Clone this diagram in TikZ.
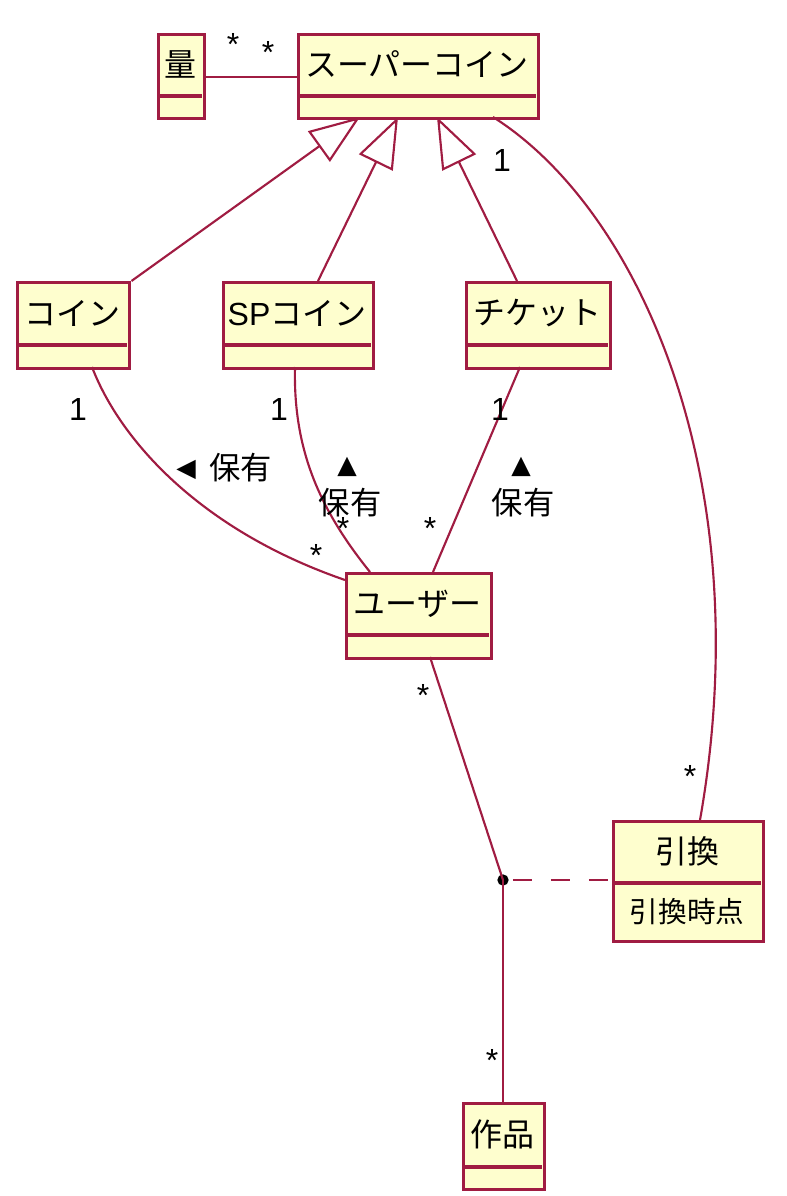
\documentclass[tikz,border=0pt]{standalone}
\usepackage{fontspec}
\setmainfont{Liberation Sans}
\newfontfamily\jp{Noto Sans CJK JP}
\newfontfamily\sym{DejaVu Sans}
\usetikzlibrary{arrows.meta}
\definecolor{bord}{HTML}{A01C42}
\definecolor{fillc}{HTML}{FEFECE}
\newcommand\umlcls[7]{%
  \node[cls, minimum width={(#4-#2)*0.75pt}, minimum height={(#5-#3)*0.75pt}] (#1) at (#2,#3) {};
  \draw[sepline] (#2+1.5,#6) -- (#4-1.5,#6);
  \node[nm] (#1-t) at ({(#2+#4)/2},{(#3+#6)/2}) {#7};
}
\begin{document}
\begin{tikzpicture}[x=0.75pt,y=-0.75pt,
  cls/.style={draw=bord, fill=fillc, line width=2.6pt, inner sep=0pt, anchor=north west},
  sepline/.style={draw=bord, line width=2.6pt},
  nm/.style={font=\fontsize{24}{27}\selectfont\jp, inner sep=0pt},
  attr/.style={font=\fontsize{21.5}{24}\selectfont\jp, inner sep=0pt},
  conn/.style={draw=bord, line width=1.6pt},
  gen/.style={conn, -{Triangle[open, length=38pt, width=28pt, line width=1.6pt]}},
  num/.style={font=\fontsize{24}{27}\selectfont, inner sep=0pt, anchor=south},
  star/.style={font=\fontsize{24}{27}\selectfont, inner sep=0pt, anchor=north},
  jl/.style={font=\fontsize{23.5}{26}\selectfont\jp, inner sep=0pt},
  sy/.style={font=\fontsize{19}{22}\selectfont\sym, inner sep=0pt}]
\path[use as bounding box] (0,0) rectangle (786,1196);

% classes
\umlcls{ryo}{157}{33}{203}{117}{96}{量}
\umlcls{sc}{297}{33}{537}{117}{96}{スーパーコイン}
\umlcls{coin}{16}{281}{128}{367}{345}{コイン}
\umlcls{sp}{222}{281}{372}{367}{345}{{\fontspec{Liberation Sans}SP}コイン}
\umlcls{tk}{465}{281}{609}{367}{345}{チケット}
\umlcls{usr}{345}{572}{490}{657}{635}{ユーザー}
\umlcls{hk}{612}{820}{762}{940}{883}{引換}
\node[attr] (hk-a) at (687,912) {引換時点};
\umlcls{sak}{462}{1102}{543}{1188}{1167}{作品}

% anchor coordinates
\coordinate (t1) at (360,117);
\coordinate (t2) at (398,117);
\coordinate (t3) at (437,117);
\coordinate (scr) at (493,117);
\coordinate (hkt) at (700,820);
\coordinate (coinb) at (92,367);
\coordinate (spb) at (295,367);
\coordinate (tkb) at (520,367);
\coordinate (usrl) at (345,580);
\coordinate (usrt1) at (370,572);
\coordinate (usrt2) at (433,572);
\coordinate (usrb) at (430,657);
\coordinate (sakt) at (503,1102);

% association quantity
\draw[conn] (ryo.east) -- (sc.west);
\node[star] (s1) at (233,33) {*};
\node[star] (s2) at (268,41) {*};

% generalizations
\draw[gen] (coin.north east) -- (t1);
\draw[gen] (318,281) coordinate (spt) -- (t2);
\draw[gen] (517,281) coordinate (tkt) -- (t3);
\node[num] (n1) at (502,172) {1};

% super coin -> exchange
\draw[conn] (scr) .. controls (640,210) and (760,480) .. (hkt);
\node[star] (s3) at (690,765) {*};

% ownership
\draw[conn] (coinb) .. controls (120,440) and (200,530) .. (usrl);
\draw[conn] (spb) .. controls (293,450) and (320,510) .. (usrt1);
\draw[conn] (tkb) -- (usrt2);
\node[num] (n2) at (78,421) {1};
\node[num] (n3) at (279,421) {1};
\node[num] (n4) at (500,421) {1};
\node[star] (s4) at (316,544) {*};
\node[star] (s5) at (343,517) {*};
\node[star] (s6) at (430,517) {*};
\node[sy, anchor=east] (a1) at (196,470) {◀};
\node[jl, anchor=west] (h1) at (209,468) {保有};
\node[sy] (a2) at (347,467) {▲};
\node[jl] (h2) at (350,503) {保有};
\node[sy] (a3) at (521,467) {▲};
\node[jl] (h3) at (523,503) {保有};

% user - work with association class
\node[circle, fill=black, inner sep=0pt, minimum size=8.5pt] (ap) at (503,880) {};
\draw[conn] (usrb) -- (ap.center);
\draw[conn] (ap.center) -- (sakt);
\draw[conn, dash pattern=on 14pt off 14.5pt, dash phase=-3pt] (ap.east) -- (ap.east -| hk.west);
\node[star] (s7) at (423,684) {*};
\node[star] (s8) at (492,1049) {*};
\end{tikzpicture}
\end{document}
